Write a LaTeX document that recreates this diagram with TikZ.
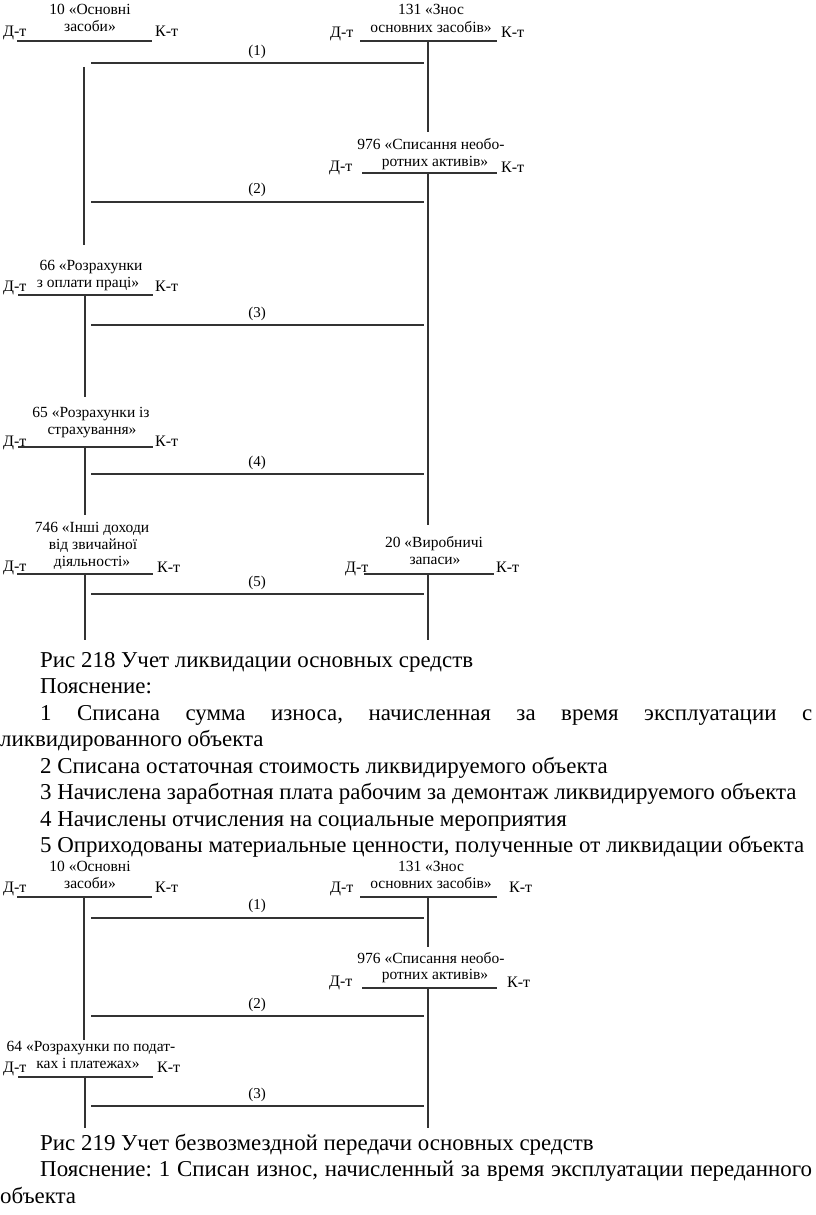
\documentclass[tikz,border=0pt]{standalone}
\usepackage{fontspec}
\setmainfont{Liberation Serif}
\newfontfamily\bodyfont[FakeStretch=1.01]{Liberation Serif}
\newfontfamily\diagfont{Liberation Serif}
\frenchspacing
\tikzset{
  lbl/.style={font=\diagfont\fontsize{15.5}{17}\selectfont, anchor=base, inner sep=0pt},
  side/.style={font=\diagfont\fontsize{16}{18}\selectfont, anchor=base west, inner sep=0pt},
  num/.style={font=\diagfont\fontsize{15}{17}\selectfont, anchor=base, inner sep=0pt},
  ln/.style={line width=1.4pt, draw=black!80},
  body/.style={font=\bodyfont\fontsize{22.7}{26.5}\selectfont\frenchspacing, anchor=base west, inner sep=0pt},
}
\begin{document}
\begin{tikzpicture}[x=1pt,y=-1pt]
\useasboundingbox (0,0) rectangle (816,1215);

% ===== Diagram 1 =====
% account 10
\node[lbl] (a10a) at (90,15) {10 «Основні};
\node[lbl] (a10b) at (90,32) {засоби»};
\node[side] (a10d) at (3,37) {Д-т};
\node[side] (a10k) at (155,37) {К-т};
\coordinate (a10l) at (17,41); \coordinate (a10r) at (152,41);
\draw[ln] (a10l) -- (a10r);
\coordinate (a10t) at (84,67); \coordinate (a10e) at (84,245);
\draw[ln] (a10t) -- (a10e);
% account 131
\node[lbl] (a131a) at (431,15) {131 «Знос};
\node[lbl] (a131b) at (431,33) {основних засобів»};
\node[side] (a131d) at (330,38) {Д-т};
\node[side] (a131k) at (501,38) {К-т};
\coordinate (a131l) at (360,41); \coordinate (a131r) at (497,41);
\draw[ln] (a131l) -- (a131r);
\coordinate (a131t) at (428,41); \coordinate (a131e) at (428,132);
\draw[ln] (a131t) -- (a131e);
% entry 1
\coordinate (e1l) at (91,63); \coordinate (e1r) at (424,63);
\draw[ln] (e1l) -- (e1r);
\node[num] (n1) at (257,56) {(1)};
% account 976
\node[lbl] (a976a) at (431,149) {976 «Списання необо-};
\node[lbl] (a976b) at (435,166) {ротних активів»};
\node[side] (a976d) at (329,171) {Д-т};
\node[side] (a976k) at (501,172) {К-т};
\coordinate (a976l) at (362,173); \coordinate (a976r) at (497,173);
\draw[ln] (a976l) -- (a976r);
\coordinate (a976t) at (428,173); \coordinate (a976e) at (428,525);
\draw[ln] (a976t) -- (a976e);
% entry 2
\coordinate (e2l) at (91,202); \coordinate (e2r) at (424,202);
\draw[ln] (e2l) -- (e2r);
\node[num] (n2) at (257,193) {(2)};
% account 66
\node[lbl] (a66a) at (91,270) {66 «Розрахунки};
\node[lbl] (a66b) at (88,287) {з оплати праці»};
\node[side] (a66d) at (3,291) {Д-т};
\node[side] (a66k) at (155,291) {К-т};
\coordinate (a66l) at (18,295); \coordinate (a66r) at (153,295);
\draw[ln] (a66l) -- (a66r);
\coordinate (a66t) at (85,295); \coordinate (a66e) at (85,397);
\draw[ln] (a66t) -- (a66e);
% entry 3
\coordinate (e3l) at (91,325); \coordinate (e3r) at (424,325);
\draw[ln] (e3l) -- (e3r);
\node[num] (n3) at (257,317) {(3)};
% account 65
\node[lbl] (a65a) at (91,417) {65 «Розрахунки із};
\node[lbl] (a65b) at (92,434) {страхування»};
\node[side] (a65d) at (3,446) {Д-т};
\node[side] (a65k) at (155,446) {К-т};
\coordinate (a65l) at (18,447); \coordinate (a65r) at (153,447);
\draw[ln] (a65l) -- (a65r);
\coordinate (a65t) at (85,447); \coordinate (a65e) at (85,515);
\draw[ln] (a65t) -- (a65e);
% entry 4
\coordinate (e4l) at (91,474); \coordinate (e4r) at (424,474);
\draw[ln] (e4l) -- (e4r);
\node[num] (n4) at (257,466) {(4)};
% account 746
\node[lbl] (a746a) at (92,532) {746 «Інші доходи};
\node[lbl] (a746b) at (93,549) {від звичайної};
\node[lbl] (a746c) at (92,566) {діяльності»};
\node[side] (a746d) at (3,571) {Д-т};
\node[side] (a746k) at (157,572) {К-т};
\coordinate (a746l) at (17,574); \coordinate (a746r) at (153,574);
\draw[ln] (a746l) -- (a746r);
\coordinate (a746t) at (85,574); \coordinate (a746e) at (85,640);
\draw[ln] (a746t) -- (a746e);
% account 20
\node[lbl] (a20a) at (434,547) {20 «Виробничі};
\node[lbl] (a20b) at (435,564) {запаси»};
\node[side] (a20d) at (345,572) {Д-т};
\node[side] (a20k) at (496,572) {К-т};
\coordinate (a20l) at (364,574); \coordinate (a20r) at (494,574);
\draw[ln] (a20l) -- (a20r);
\coordinate (a20t) at (428,574); \coordinate (a20e) at (428,640);
\draw[ln] (a20t) -- (a20e);
% entry 5
\coordinate (e5l) at (91,594); \coordinate (e5r) at (424,594);
\draw[ln] (e5l) -- (e5r);
\node[num] (n5) at (257,586) {(5)};

% ===== Text 1 =====
\node[body] (t1) at (40,667) {Рис 218 Учет ликвидации основных средств};
\node[body] (t2) at (40,693.5) {Пояснение:};
\node[body] (t3) at (40,720) {\makebox[772pt][s]{1 Списана сумма износа, начисленная за время эксплуатации с}};
\node[body] (t4) at (0,746.5) {ликвидированного объекта};
\node[body] (t5) at (40,773) {2 Списана остаточная стоимость ликвидируемого объекта};
\node[body] (t6) at (40,799.5) {3 Начислена заработная плата рабочим за демонтаж ликвидируемого объекта};
\node[body] (t7) at (40,826) {4 Начислены отчисления на социальные мероприятия};
\node[body] (t8) at (40,852.5) {5 Оприходованы материальные ценности, полученные от ликвидации объекта};

% ===== Diagram 2 =====
\node[lbl] (b10a) at (90,871) {10 «Основні};
\node[lbl] (b10b) at (90,888) {засоби»};
\node[side] (b10d) at (3,892) {Д-т};
\node[side] (b10k) at (155,892) {К-т};
\coordinate (b10l) at (17,897); \coordinate (b10r) at (152,897);
\draw[ln] (b10l) -- (b10r);
\coordinate (b10t) at (84,897); \coordinate (b10e) at (84,1040);
\draw[ln] (b10t) -- (b10e);
\node[lbl] (b131a) at (431,871) {131 «Знос};
\node[lbl] (b131b) at (431,888) {основних засобів»};
\node[side] (b131d) at (330,892) {Д-т};
\node[side] (b131k) at (509,892) {К-т};
\coordinate (b131l) at (360,897); \coordinate (b131r) at (497,897);
\draw[ln] (b131l) -- (b131r);
\coordinate (b131t) at (428,897); \coordinate (b131e) at (428,947);
\draw[ln] (b131t) -- (b131e);
\coordinate (f1l) at (91,918); \coordinate (f1r) at (424,918);
\draw[ln] (f1l) -- (f1r);
\node[num] (m1) at (257,909) {(1)};
\node[lbl] (b976a) at (431,963) {976 «Списання необо-};
\node[lbl] (b976b) at (435,979) {ротних активів»};
\node[side] (b976d) at (329,986) {Д-т};
\node[side] (b976k) at (507,987) {К-т};
\coordinate (b976l) at (362,988); \coordinate (b976r) at (497,988);
\draw[ln] (b976l) -- (b976r);
\coordinate (b976t) at (428,988); \coordinate (b976e) at (428,1128);
\draw[ln] (b976t) -- (b976e);
\coordinate (f2l) at (91,1016); \coordinate (f2r) at (424,1016);
\draw[ln] (f2l) -- (f2r);
\node[num] (m2) at (257,1008) {(2)};
\node[lbl] (b64a) at (91,1051) {64 «Розрахунки по подат-};
\node[lbl] (b64b) at (88,1068) {ках і платежах»};
\node[side] (b64d) at (3,1072) {Д-т};
\node[side] (b64k) at (157,1072) {К-т};
\coordinate (b64l) at (18,1077); \coordinate (b64r) at (153,1077);
\draw[ln] (b64l) -- (b64r);
\coordinate (b64t) at (85,1077); \coordinate (b64e) at (85,1128);
\draw[ln] (b64t) -- (b64e);
\coordinate (f3l) at (91,1106); \coordinate (f3r) at (424,1106);
\draw[ln] (f3l) -- (f3r);
\node[num] (m3) at (257,1098) {(3)};

% ===== Text 2 =====
\node[body] (u1) at (40,1150) {Рис 219 Учет безвозмездной передачи основных средств};
\node[body] (u2) at (40,1176.5) {\makebox[772pt][s]{Пояснение: 1 Списан износ, начисленный за время эксплуатации переданного}};
\node[body] (u3) at (0,1203) {объекта};
\end{tikzpicture}
\end{document}
